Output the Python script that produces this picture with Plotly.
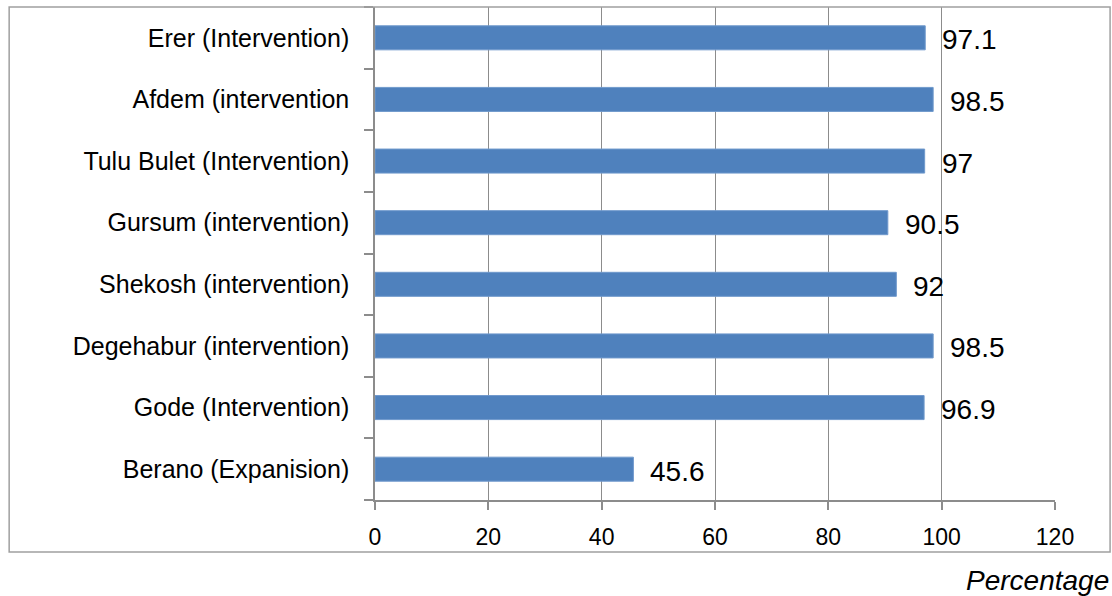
import plotly.graph_objects as go

# Sites listed from bottom to top of the chart
sites = [
    "Berano (Expanision)",
    "Gode (Intervention)",
    "Degehabur (intervention)",
    "Shekosh (intervention)",
    "Gursum (intervention)",
    "Tulu Bulet (Intervention)",
    "Afdem (intervention",
    "Erer (Intervention)",
]
percentages = [45.6, 96.9, 98.5, 92, 90.5, 97, 98.5, 97.1]
value_labels = ["45.6", "96.9", "98.5", "92", "90.5", "97", "98.5", "97.1"]
x_ticks = [0, 20, 40, 60, 80, 100, 120]

FONT = "Liberation Sans"
GRID = "#8c8c8c"

fig = go.Figure(
    go.Bar(
        x=percentages,
        y=sites,
        orientation="h",
        width=0.39,
        marker=dict(color="#4F81BD", line=dict(color="#7099cc", width=1)),
        hoverinfo="x+y",
    )
)

# value labels to the right of each bar
for site, val, lab in zip(sites, percentages, value_labels):
    fig.add_annotation(
        x=val, y=site, text=lab, xanchor="left", yanchor="middle",
        xshift=15, yshift=-2, showarrow=False,
        font=dict(family=FONT, size=28, color="#000000"),
    )

# axis title under the frame, right-aligned
fig.add_annotation(
    x=1.0825, y=-0.163, xref="paper", yref="paper", text="<i>Percentage</i>",
    xanchor="right", yanchor="middle", showarrow=False,
    font=dict(family=FONT, size=28, color="#000000"),
)

# outer frame around the chart
fig.add_shape(
    type="rect", xref="paper", yref="paper",
    x0=-0.538, x1=1.081, y0=-0.1055, y1=1.0,
    line=dict(color="#a0a0a0", width=1.5), fillcolor="rgba(0,0,0,0)",
)

fig.update_layout(
    width=1112, height=596,
    margin=dict(l=375, r=57, t=7, b=96),
    paper_bgcolor="white", plot_bgcolor="white",
    showlegend=False,
    xaxis=dict(
        range=[0, 120], tickvals=x_ticks, ticktext=[str(t) for t in x_ticks],
        showgrid=True, gridcolor=GRID, gridwidth=1,
        showline=True, linecolor=GRID, linewidth=1.5,
        ticks="outside", ticklen=8, tickcolor=GRID, tickwidth=1.5,
        ticklabelstandoff=8,
        tickfont=dict(family=FONT, size=23, color="#000000"),
        zeroline=False, fixedrange=True,
    ),
    yaxis=dict(
        categoryorder="array", categoryarray=sites,
        showline=True, linecolor=GRID, linewidth=1.5,
        ticks="outside", tickson="boundaries", ticklen=9,
        tickcolor=GRID, tickwidth=1.5,
        ticklabelstandoff=19,
        tickfont=dict(family=FONT, size=25, color="#000000"),
        showgrid=False, fixedrange=True,
    ),
)

fig.write_html("out.html")
